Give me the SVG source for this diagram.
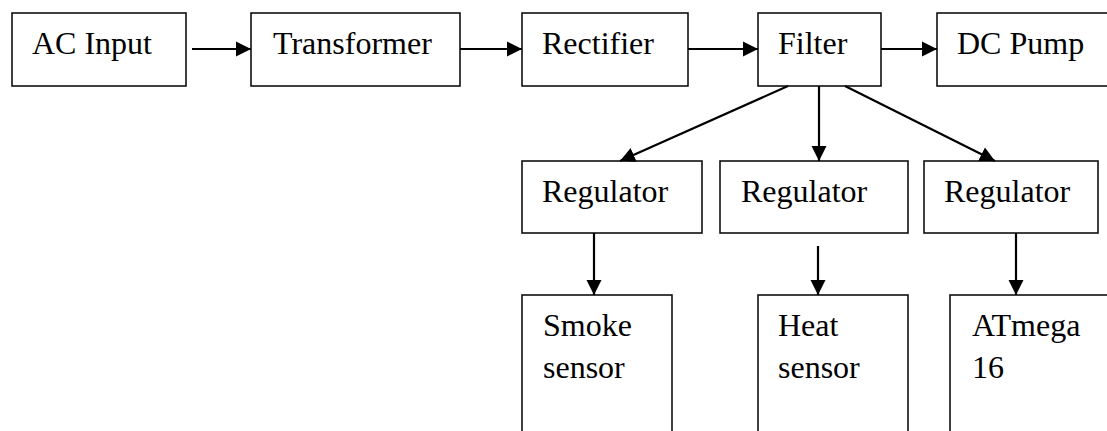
<svg xmlns="http://www.w3.org/2000/svg" width="1107" height="431" viewBox="0 0 1107 431">
<style>
.box{fill:#fff;stroke:#000;stroke-width:1.5}
.lbl{font-family:'Liberation Serif','DejaVu Serif',serif;font-size:32px;fill:#000}
.con{stroke:#000;stroke-width:2.2;fill:none;marker-end:url(#ah)}
</style>
<defs>
<marker id="ah" markerUnits="userSpaceOnUse" markerWidth="16" markerHeight="16" viewBox="0 0 16 16" refX="15" refY="8" orient="auto">
<path d="M0,0.5 L15,8 L0,15.5 Z" fill="#000"/>
</marker>
</defs>
<rect width="1107" height="431" fill="#fff"/>
<g id="ac-input"><rect class="box" x="12" y="13" width="174" height="73"/><text class="lbl" font-family="Liberation Serif" x="32" y="54">AC Input</text></g>
<g id="transformer"><rect class="box" x="251" y="13" width="209" height="73"/><text class="lbl" font-family="Liberation Serif" x="273" y="54">Transformer</text></g>
<g id="rectifier"><rect class="box" x="522" y="13" width="166" height="73"/><text class="lbl" font-family="Liberation Serif" x="542" y="54">Rectifier</text></g>
<g id="filter"><rect class="box" x="758" y="13" width="123" height="73"/><text class="lbl" font-family="Liberation Serif" x="778" y="54">Filter</text></g>
<g id="dc-pump"><rect class="box" x="937" y="13" width="200" height="73"/><text class="lbl" font-family="Liberation Serif" x="957" y="54">DC Pump</text></g>
<g id="regulator1"><rect class="box" x="522" y="161" width="180" height="72"/><text class="lbl" font-family="Liberation Serif" x="542" y="202">Regulator</text></g>
<g id="regulator2"><rect class="box" x="720" y="161" width="188" height="72"/><text class="lbl" font-family="Liberation Serif" x="741" y="202">Regulator</text></g>
<g id="regulator3"><rect class="box" x="924" y="161" width="174" height="72"/><text class="lbl" font-family="Liberation Serif" x="944" y="202">Regulator</text></g>
<g id="smoke-sensor"><rect class="box" x="522" y="295" width="150" height="160"/><text class="lbl" font-family="Liberation Serif" x="543" y="336">Smoke</text><text class="lbl" font-family="Liberation Serif" x="543" y="378">sensor</text></g>
<g id="heat-sensor"><rect class="box" x="758" y="295" width="150" height="160"/><text class="lbl" font-family="Liberation Serif" x="778" y="336">Heat</text><text class="lbl" font-family="Liberation Serif" x="778" y="378">sensor</text></g>
<g id="atmega16"><rect class="box" x="950" y="295" width="200" height="160"/><text class="lbl" font-family="Liberation Serif" x="972" y="336">ATmega</text><text class="lbl" font-family="Liberation Serif" x="972" y="378">16</text></g>
<g id="connectors">
<line class="con" x1="192" y1="49" x2="251" y2="49"/>
<line class="con" x1="460" y1="49" x2="522" y2="49"/>
<line class="con" x1="688" y1="49" x2="758" y2="49"/>
<line class="con" x1="881" y1="49" x2="937" y2="49"/>
<line class="con" x1="788" y1="86" x2="620" y2="161"/>
<line class="con" x1="819" y1="86" x2="819" y2="161"/>
<line class="con" x1="845" y1="86" x2="995" y2="161"/>
<line class="con" x1="594" y1="233" x2="594" y2="295"/>
<line class="con" x1="818" y1="246" x2="818" y2="295"/>
<line class="con" x1="1016" y1="233" x2="1016" y2="295"/>
</g>
</svg>
